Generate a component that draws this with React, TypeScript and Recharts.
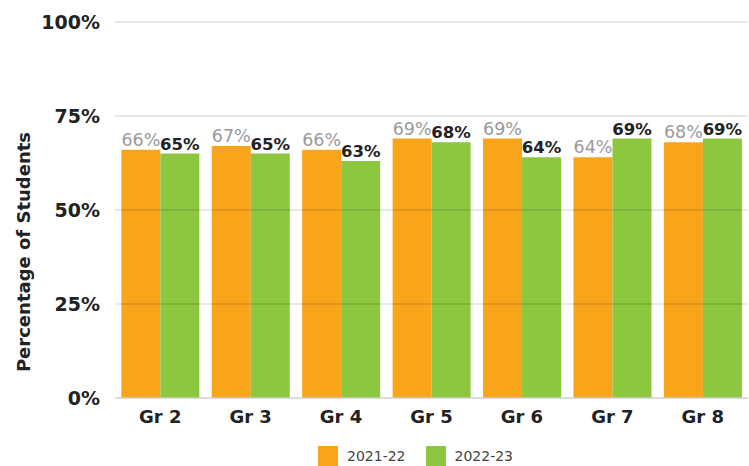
import React from "react";
import { BarChart, Bar, XAxis, YAxis, ReferenceLine, LabelList, Legend } from "recharts";

const categories = ["Gr 2", "Gr 3", "Gr 4", "Gr 5", "Gr 6", "Gr 7", "Gr 8"];
const series2122 = [66, 67, 66, 69, 69, 64, 68];
const series2223 = [65, 65, 63, 68, 64, 69, 69];
const yTicks = [0, 25, 50, 75, 100];
const seriesNames = ["2021-22", "2022-23"];
const colors = ["#F9A51C", "#8DC63F"];

const data = categories.map((c, i) => ({ name: c, a: series2122[i], b: series2223[i] }));

const FONT = "'DejaVu Sans', sans-serif";

const LegendContent = () => (
  <div style={{ display: "flex", justifyContent: "flex-start", paddingLeft: 318, paddingTop: 12, fontFamily: FONT, fontSize: 14, color: "#444" }}>
    {seriesNames.map((n, i) => (
      <div key={n} style={{ display: "flex", alignItems: "center", marginRight: i === 0 ? 20 : 0 }}>
        <div style={{ width: 20, height: 20, background: colors[i], marginRight: 9 }} />
        <span>{n}</span>
      </div>
    ))}
  </div>
);

const YLabel = () => (
  <text
    x={30}
    y={252}
    transform="rotate(-90 30 252)"
    textAnchor="middle"
    fontFamily={FONT}
    fontWeight="bold"
    fontSize={18}
    fill="#222"
  >
    Percentage of Students
  </text>
);

export default function App() {
  return (
    <div style={{ position: "absolute", left: 0, top: 0 }}>
      <BarChart
        width={749}
        height={466}
        data={data}
        margin={{ top: 22, right: 1, left: 0, bottom: 0 }}
        barGap={0}
        barCategoryGap="7%"
      >
        <XAxis
          dataKey="name"
          height={36}
          tickSize={0}
          tickMargin={12}
          axisLine={{ stroke: "#cfcfcf", strokeWidth: 1.5 }}
          tick={{ fontFamily: FONT, fontWeight: "bold", fontSize: 18, fill: "#222" }}
        />
        <YAxis
          width={115}
          domain={[0, 100]}
          ticks={yTicks}
          tickFormatter={(v) => `${v}%`}
          axisLine={false}
          tickSize={0}
          tickMargin={15}
          tick={{ fontFamily: FONT, fontWeight: "bold", fontSize: 19, fill: "#222" }}
          label={<YLabel />}
        />
        <Legend verticalAlign="bottom" height={32} content={<LegendContent />} />
        <Bar dataKey="a" name={seriesNames[0]} fill={colors[0]} isAnimationActive={false}>
          <LabelList
            dataKey="a"
            position="top"
            offset={4}
            formatter={(v) => `${v}%`}
            style={{ fontFamily: FONT, fontSize: 17.5, fill: "#9a9a9a" }}
          />
        </Bar>
        <Bar dataKey="b" name={seriesNames[1]} fill={colors[1]} isAnimationActive={false}>
          <LabelList
            dataKey="b"
            position="top"
            offset={4}
            formatter={(v) => `${v}%`}
            style={{ fontFamily: FONT, fontSize: 16.5, fontWeight: "bold", fill: "#222" }}
          />
        </Bar>
        {[25, 50, 75, 100].map((t) => (
          <ReferenceLine key={t} y={t} stroke="#000" strokeOpacity={0.12} strokeWidth={1.5} />
        ))}
      </BarChart>
    </div>
  );
}
